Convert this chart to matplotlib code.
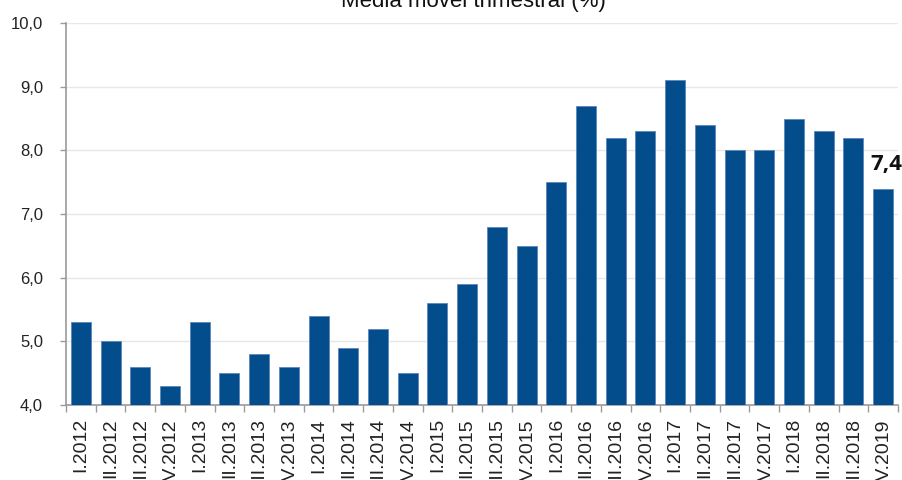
import matplotlib
matplotlib.use("Agg")
import matplotlib.pyplot as plt
import numpy as np

labels = ["I.2012", "II.2012", "III.2012", "IV.2012",
          "I.2013", "II.2013", "III.2013", "IV.2013",
          "I.2014", "II.2014", "III.2014", "IV.2014",
          "I.2015", "II.2015", "III.2015", "IV.2015",
          "I.2016", "II.2016", "III.2016", "IV.2016",
          "I.2017", "II.2017", "III.2017", "IV.2017",
          "I.2018", "II.2018", "III.2018", "IV.2019"]
values = [5.3, 5.0, 4.6, 4.3,
          5.3, 4.5, 4.8, 4.6,
          5.4, 4.9, 5.2, 4.5,
          5.6, 5.9, 6.8, 6.5,
          7.5, 8.7, 8.2, 8.3,
          9.1, 8.4, 8.0, 8.0,
          8.5, 8.3, 8.2, 7.4]
title = "Média móvel trimestral (%)"
yticks = [4.0, 5.0, 6.0, 7.0, 8.0, 9.0, 10.0]

plt.rcParams['font.family'] = ['Liberation Sans', 'DejaVu Sans']

fig = plt.figure(figsize=(9.02, 4.80), dpi=100)
ax = fig.add_axes([66/902, 1-405/480, (898-66)/902, (405-23)/480])

x = np.arange(len(values))
ax.bar(x, [v - 4.0 for v in values], bottom=4.0, width=0.673,
       color='#044d8c', edgecolor='#5a86b8', linewidth=0.6, zorder=3)

ax.set_xlim(-0.5, len(values) - 0.5)
ax.set_ylim(4.0, 10.0)
ax.set_yticks(yticks)
ax.set_yticklabels([f"{t:.1f}".replace('.', ',') for t in yticks], fontsize=12, color='#222222')
ax.yaxis.grid(True, color='#e8e8e8', linewidth=1.0, zorder=0)
ax.set_axisbelow(True)

ax.set_xticks(x)
ax.set_xticklabels(labels, rotation=90, fontsize=14, color='#222222', va='top')
ax.set_xticks(np.arange(len(values) + 1) - 0.5, minor=True)
ax.tick_params(axis='x', which='major', length=0, pad=9.5)
ax.tick_params(axis='x', which='minor', length=5, width=1, color='#9a9a9a')
ax.tick_params(axis='y', which='major', length=4.5, width=1, color='#9a9a9a', pad=12)

for s in ['top', 'right']:
    ax.spines[s].set_visible(False)
for s in ['left', 'bottom']:
    ax.spines[s].set_color('#9a9a9a')
    ax.spines[s].set_linewidth(1.2)

ax.annotate(f"{values[-1]:.1f}".replace('.', ','), xy=(x[-1], values[-1]),
            xytext=(2, 10), textcoords='offset points', ha='center', va='bottom',
            fontsize=16, fontweight='bold', family=['Open Sans', 'DejaVu Sans'],
            color='#111111', annotation_clip=False)

fig.text(473/902, 1 - 7/480, title, ha='center', va='baseline', fontsize=16, color='#111111')

fig.savefig("out.png", dpi=100)
